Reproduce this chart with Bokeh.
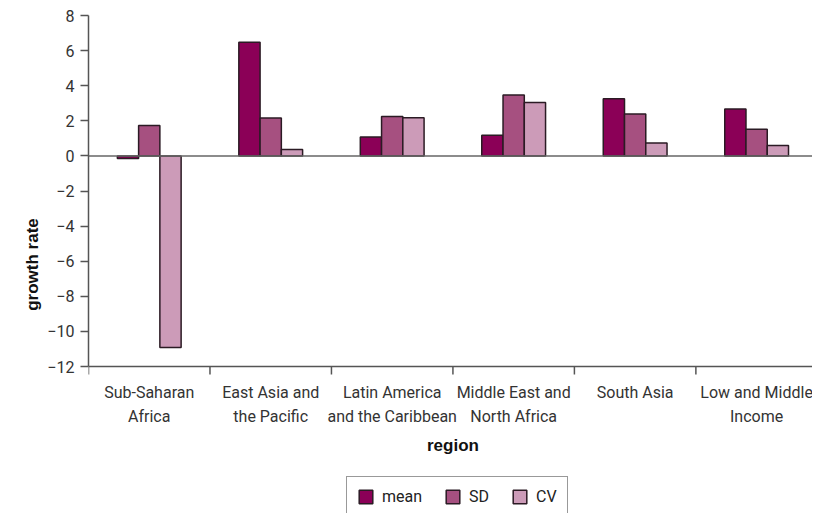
from bokeh.plotting import figure
from bokeh.models import Range1d, FixedTicker, Span, Legend, LegendItem, Title
from bokeh.core.properties import value
from bokeh.embed import file_html
from bokeh.resources import INLINE
import numpy as np

regions = ["Sub-Saharan\nAfrica", "East Asia and\nthe Pacific", "Latin America\nand the Caribbean",
           "Middle East and\nNorth Africa", "South Asia", "Low and Middle\nIncome"]
mean_vals = [-0.15, 6.48, 1.08, 1.18, 3.26, 2.67]
sd_vals = [1.73, 2.16, 2.24, 3.47, 2.39, 1.52]
cv_vals = [-10.92, 0.36, 2.18, 3.04, 0.74, 0.59]
series_names = ["mean", "SD", "CV"]
colors = ["#8B0057", "#A65080", "#CC9BB8"]
y_ticks = [8, 6, 4, 2, 0, -2, -4, -6, -8, -10, -12]

FONT = "Roboto"
BOLD = "Liberation Sans"

Y_MIN, Y_MAX = -12, 8
PLOT_PX = 351                      # pixel height of the -12..8 span
EXTRA_PX = 147                     # room below the axis for labels and legend
px_per_unit = PLOT_PX / (Y_MAX - Y_MIN)
y_bottom = Y_MIN - EXTRA_PX / px_per_unit

p = figure(frame_width=724, frame_height=PLOT_PX + EXTRA_PX, output_backend="svg",
           toolbar_location=None, x_axis_location=None,
           x_range=Range1d(0, 5.96), y_range=Range1d(y_bottom, Y_MAX),
           min_border_left=88, min_border_top=15, min_border_right=0, min_border_bottom=0)
p.outline_line_color = None
p.grid.grid_line_color = None

centers = np.arange(len(regions)) + 0.5
bw = 0.175
renderers = []
for i, (vals, c) in enumerate(zip([mean_vals, sd_vals, cv_vals], colors)):
    r = p.vbar(x=centers + (i - 1) * bw, top=vals, bottom=0, width=bw,
               fill_color=c, line_color="#2b1b24", line_width=1.5)
    renderers.append(r)

p.add_layout(Span(location=0, dimension="width", line_color="#666666", line_width=1.5))

# x axis (drawn by hand in the lower part of the frame)
p.add_layout(Span(location=Y_MIN, dimension="width", line_color="#555555", line_width=1.5))
bounds_x = list(range(len(regions) + 1))
tick_len = 8 / px_per_unit
p.segment(x0=bounds_x, y0=[Y_MIN] * len(bounds_x), x1=bounds_x,
          y1=[Y_MIN - tick_len] * len(bounds_x), line_color="#555555", line_width=1.5)
p.text(x=centers, y=[Y_MIN] * len(centers), text=regions, y_offset=16,
       text_align="center", text_baseline="top", text_font=value(FONT),
       text_font_size="16px", text_color="#333333", text_line_height=1.3)
p.text(x=[3.0], y=[Y_MIN], text=["region"], y_offset=79, text_align="center",
       text_baseline="middle", text_font=value(BOLD), text_font_style="bold",
       text_font_size="17px", text_color="#111111")

# y axis
ya = p.yaxis[0]
ya.bounds = (Y_MIN, Y_MAX)
ya.ticker = FixedTicker(ticks=y_ticks)
ya.major_label_overrides = {t: (str(t).replace("-", "\u2212")) for t in y_ticks}
ya.major_label_text_font = FONT
ya.major_label_text_font_size = "16px"
ya.major_label_text_color = "#333333"
ya.major_label_standoff = 6
ya.axis_line_color = "#555555"
ya.axis_line_width = 1.5
ya.major_tick_line_color = "#555555"
ya.major_tick_line_width = 1.5
ya.major_tick_out = 8
ya.major_tick_in = 0
ya.minor_tick_line_color = None

# y axis title, centred on the -12..8 span (frame centre is EXTRA_PX/2 lower)
ytitle = Title(text="growth rate", align="center", offset=EXTRA_PX / 2,
               text_font=BOLD, text_font_style="bold", text_font_size="17px",
               text_color="#111111", standoff=6)
p.add_layout(ytitle, "left")

legend = Legend(items=[LegendItem(label=n, renderers=[r]) for n, r in zip(series_names, renderers)],
                orientation="horizontal", location=(258, -4))
legend.border_line_color = "#333333"
legend.border_line_width = 1
legend.label_text_font = FONT
legend.label_text_font_size = "16px"
legend.label_text_color = "#222222"
legend.glyph_width = 17
legend.glyph_height = 17
legend.spacing = 22
legend.padding = 10
legend.margin = 0
legend.label_standoff = 8
p.add_layout(legend)

open("out.html", "w").write(file_html(p, INLINE))
